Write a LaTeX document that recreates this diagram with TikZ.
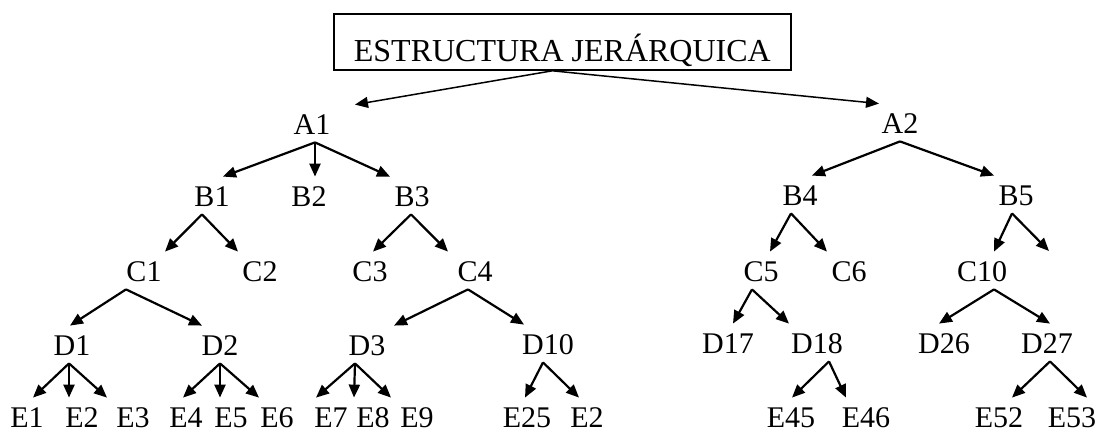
\documentclass[tikz,border=0pt]{standalone}
\usepackage{fontspec}
\setmainfont{Liberation Serif}
\usetikzlibrary{arrows.meta}
\tikzset{
  nodo/.style={inner xsep=1pt, inner ysep=1pt, text height=10pt, text depth=0pt,
    font=\fontsize{15}{18}\selectfont},
  flecha/.style={line width=1.1pt, -{Triangle[length=6.5pt,width=5.5pt]}},
}
\begin{document}
\begin{tikzpicture}[x=0.5pt, y=-0.5pt]
    \useasboundingbox (0,0) rectangle (1102,434);

    % Titel
    \node[draw, line width=0.9pt, anchor=north west, inner xsep=10pt, inner ysep=0pt,
      text height=24pt, text depth=4pt, font=\fontsize{16}{19}\selectfont]
      (titulo) at (333,13) {ESTRUCTURA JERÁRQUICA\hspace{9pt}};

    % Knopen
    \foreach \n/\x/\y in {A1/312/124, A2/900/123,
        B1/212/196, B2/309/196, B3/412/196, B4/800/195, B5/1016/195,
        C1/144/271, C2/260/271, C3/370/271, C4/475/271, C5/761/271, C6/849/271, C10/982/271,
        D1/72/345, D2/220/345, D3/367/345, D10/548/344, D17/728/343, D18/817/343, D26/944/343, D27/1047/343,
        E1/27/417, E2/82/417, E3/133/417, E4/186/417, E5/231/417, E6/277/417, E7/331/417, E8/373/417,
        E9/417/417, E25/527/417, E45/791/417, E46/866/417, E52/999/417, E53/1072/417}
      \node[nodo] (\n) at (\x,\y) {\n};
    \node[nodo] (E2b) at (587,417) {E2};
    \coordinate (B5d) at (1049,251);

    % Pijlen vanuit de titel
    \draw[flecha, line width=0.75pt] ([xshift=-5pt]titulo.south) -- ([shift={(21.5pt,3.5pt)}]A1.north);
    \draw[flecha, line width=0.75pt] ([xshift=-5pt]titulo.south) -- ([shift={(-10.5pt,3.5pt)}]A2.north);

    % Pijlen in de boom (verschuivingen in px)
    \foreach \p/\ps/\c/\cs in {A1/3/B1/11, A1/3/B2/6, A1/3/B3/-22,
        A2/0/B4/12, A2/0/B5/-22,
        B1/-10/C1/21, B1/-10/C2/-22, B3/-1/C3/3, B3/-1/C4/-27,
        B4/-9/C5/9, B4/-9/C6/-22, B5/-4/C10/12,
        C1/-18/D1/-2, C1/-18/D2/-18, C4/-7/D3/27, C4/-7/D10/-24,
        C5/-9/D17/5, C5/-9/D18/-28, C10/12/D26/-5, C10/12/D27/3,
        D1/-3/E1/6, D1/-3/E2/-13, D1/-3/E3/-26,
        D2/0/E4/-3, D2/0/E5/-11, D2/0/E6/-18,
        D3/-12/E7/-15, D3/-12/E8/-19, D3/-12/E9/-26,
        D10/-5/E25/-2, D10/-5/E2b/-8,
        D18/12/E45/1, D18/12/E46/-20, D27/3/E52/13, D27/3/E53/15}
      \draw[flecha] ([shift={(\ps*0.5pt,-3pt)}]\p.south) -- ([shift={(\cs*0.5pt,3.5pt)}]\c.north);
    \draw[flecha] ([shift={(-2pt,-3pt)}]B5.south) -- (B5d);
\end{tikzpicture}
\end{document}
